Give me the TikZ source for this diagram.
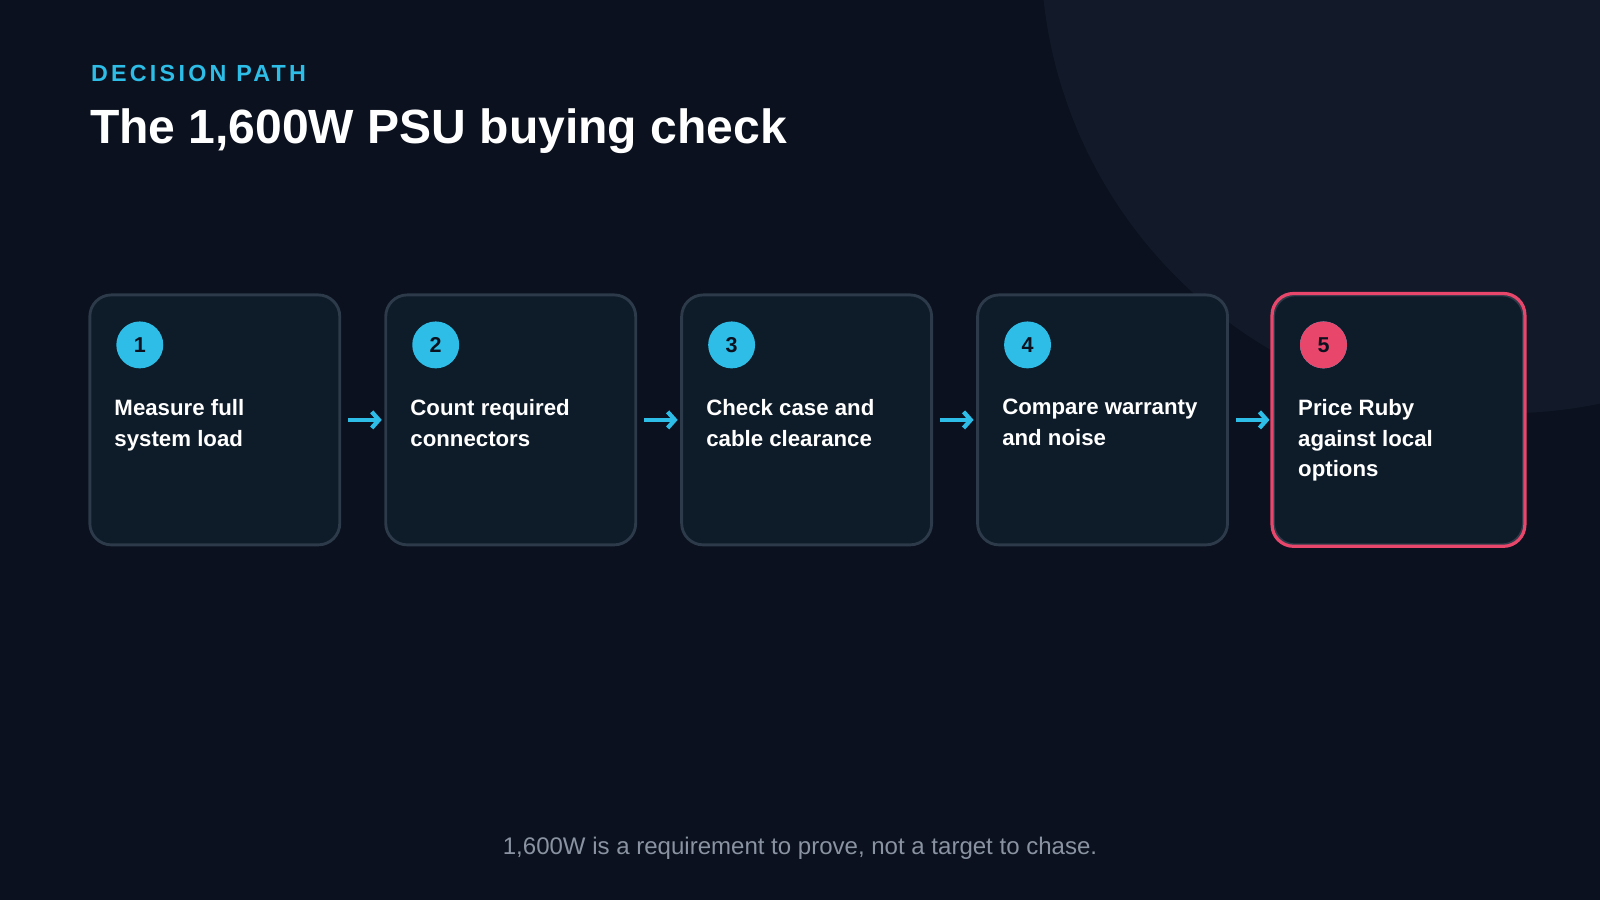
\documentclass[tikz,border=0pt]{standalone}
\usepackage{fontspec}
\setmainfont{Liberation Sans}
\usetikzlibrary{arrows.meta, positioning}
\definecolor{bgdark}{HTML}{0B111E}
\definecolor{bgglow}{HTML}{121A2A}
\definecolor{cardfill}{HTML}{0E1B29}
\definecolor{cardline}{HTML}{2C3A49}
\definecolor{stepcyan}{HTML}{2DBDE6}
\definecolor{steppink}{HTML}{E8476B}
\definecolor{footgray}{HTML}{8A93A2}
\begin{document}
\begin{tikzpicture}[x=0.02cm, y=-0.02cm,
  card/.style={draw=cardline, line width=1.6pt, fill=cardfill, rounded corners=12pt,
               minimum width=4.9cm, minimum height=4.9cm, inner sep=0pt},
  badge/.style={circle, fill=stepcyan, minimum size=0.92cm, inner sep=0pt,
                font=\bfseries\fontsize{12}{14}\selectfont, text=bgdark},
  steptext/.style={anchor=north west, align=left, text=white,
                   font=\bfseries\fontsize{12.4}{17.2}\selectfont},
  flow/.style={-{Straight Barb[length=4pt, width=9pt]}, line width=2.4pt, stepcyan},
]
% Background
\fill[bgdark] (0,0) rectangle (1568,882);
\begin{scope}
  \clip (0,0) rectangle (1568,882);
  \fill[bgglow] (1475,-50) circle (455);
\end{scope}
\useasboundingbox (0,0) rectangle (1568,882);

% Heading
\node[anchor=west, text=stepcyan, font=\bfseries\fontsize{13}{14}\selectfont\addfontfeature{LetterSpace=14}]
  (kicker) at (83,72) {DECISION PATH};
\node[anchor=west, text=white, font=\bfseries\fontsize{26.8}{32}\selectfont]
  (title) at (82,129) {The 1,600W PSU buying check};

% Steps
\foreach \i/\txt in {1/{Measure full\\system load}, 2/{Count required\\connectors},
                     3/{Check case and\\cable clearance}, 4/{Compare warranty\\and noise},
                     5/{Price Ruby\\against local\\options}} {
  \node[card] (card\i) at ({210.5+290*(\i-1)},411.5) {};
  \node[badge] (num\i) at ({137+290*(\i-1)},338) {\i};
  \node[steptext] (txt\i) at ({106+290*(\i-1)},385) {\txt};
}
\draw[steppink, line width=1.8pt, rounded corners=12pt]
  (card5.south west) rectangle (card5.north east);
\node[badge, fill=steppink] at (num5) {5};

\foreach \a/\b in {1/2, 2/3, 3/4, 4/5}
  \draw[flow] ([xshift=0.14cm]card\a.east) -- ([xshift=-0.05cm]card\b.west);

% Footer
\node[text=footgray, font=\fontsize{13.4}{15}\selectfont] (foot) at (784,831)
  {1,600W is a requirement to prove, not a target to chase.};
\end{tikzpicture}
\end{document}
